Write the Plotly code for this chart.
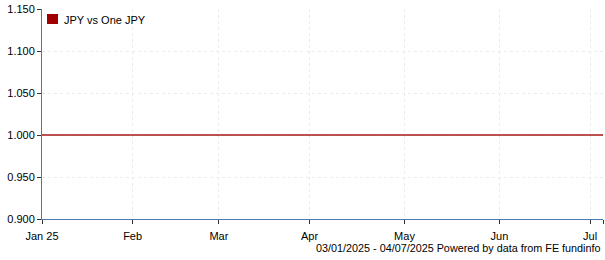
import plotly.graph_objects as go

# Data
dates = ["2025-01-03", "2025-02-03", "2025-03-03", "2025-04-01",
         "2025-05-01", "2025-06-02", "2025-07-01", "2025-07-04"]
values = [1.0, 1.0, 1.0, 1.0, 1.0, 1.0, 1.0, 1.0]
series_name = "JPY vs One JPY"
tick_dates = ["2025-01-03", "2025-02-03", "2025-03-03", "2025-04-01",
              "2025-05-01", "2025-06-02", "2025-07-01", "2025-07-04"]
tick_labels = ["Jan 25", "Feb", "Mar", "Apr", "May", "Jun", "Jul", ""]
y_ticks = [0.900, 0.950, 1.000, 1.050, 1.100, 1.150]
y_labels = ["0.900", "0.950", "1.000", "1.050", "1.100", "1.150"]
footer = "03/01/2025 - 04/07/2025 Powered by data from FE fundinfo"

W, H = 605, 260
L, R, T, B = 42, 2, 9, 41
pw, ph = W - L - R, H - T - B

def px_x(p):
    return (p - L) / pw

def px_y(p):
    return (H - B - p) / ph

LINE_RED = "#a00000"
AXIS_BLUE = "#4a7bb0"
FONT = "Liberation Sans, Arial, sans-serif"

fig = go.Figure()
fig.add_trace(go.Scatter(
    x=dates, y=values, mode="lines", name=series_name,
    line=dict(color="#a81818", width=1.5), showlegend=False,
    hoverinfo="x+y",
))

fig.update_layout(
    width=W, height=H,
    margin=dict(l=L, r=R, t=T, b=B, pad=0),
    paper_bgcolor="white", plot_bgcolor="white",
    font=dict(family=FONT, size=11, color="#000"),
    showlegend=False,
    xaxis=dict(
        type="date",
        range=["2025-01-03", "2025-07-04"],
        rangebreaks=[dict(bounds=["sat", "mon"])],
        tickmode="array", tickvals=tick_dates, ticktext=tick_labels,
        showline=True, linecolor=AXIS_BLUE, linewidth=1,
        ticks="outside", ticklen=4, tickcolor="#333", tickwidth=1,
        ticklabelstandoff=3,
        showgrid=True, gridcolor="#ebebeb", griddash="3px,3px", gridwidth=1,
        zeroline=False, tickfont=dict(size=11, color="#000"),
        fixedrange=True,
    ),
    yaxis=dict(
        range=[0.9, 1.15],
        tickmode="array", tickvals=y_ticks, ticktext=y_labels,
        showline=True, linecolor=AXIS_BLUE, linewidth=1,
        ticks="outside", ticklen=4, tickcolor="#333", tickwidth=1,
        showgrid=True, gridcolor="#ebebeb", griddash="3px,3px", gridwidth=1,
        zeroline=False, tickfont=dict(size=11, color="#000"),
        fixedrange=True,
    ),
    shapes=[dict(
        type="rect", xref="paper", yref="paper",
        x0=px_x(47), x1=px_x(58), y0=px_y(24), y1=px_y(14),
        fillcolor=LINE_RED, line=dict(width=0),
    )],
    annotations=[
        dict(text=series_name, xref="paper", yref="paper",
             x=px_x(62), y=px_y(19.5), xanchor="left", yanchor="middle",
             showarrow=False, font=dict(size=11, color="#000")),
        dict(text=footer, xref="paper", yref="paper",
             x=px_x(603), y=px_y(247.5), xanchor="right", yanchor="middle",
             showarrow=False, font=dict(size=10.8, color="#000")),
    ],
)

fig.write_html("out.html", config={"displayModeBar": False})
